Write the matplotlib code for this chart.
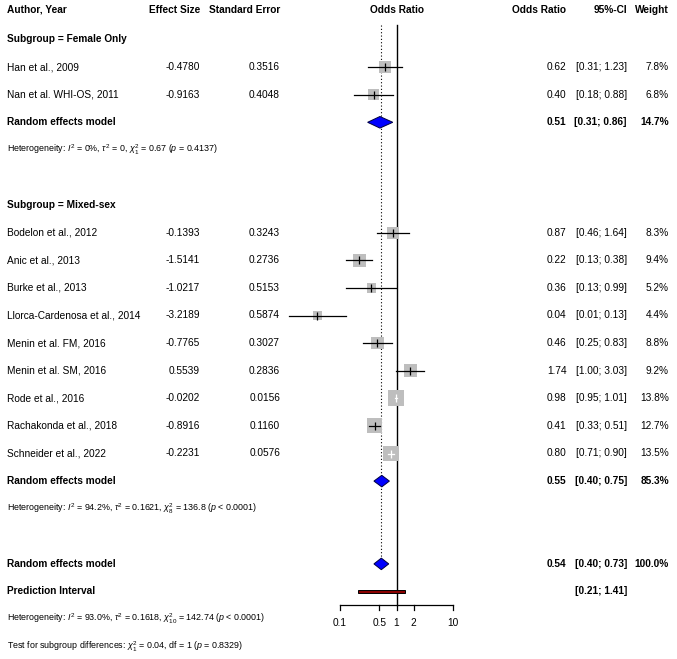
import numpy as np
import matplotlib
matplotlib.use('Agg')
import matplotlib.pyplot as plt

plt.rcParams['font.family'] = ['Liberation Sans', 'DejaVu Sans']
plt.rcParams['mathtext.fontset'] = 'custom'
plt.rcParams['mathtext.rm'] = 'Liberation Sans'
plt.rcParams['mathtext.it'] = 'Liberation Sans:italic'
plt.rcParams['mathtext.bf'] = 'Liberation Sans:bold'

# data
female_names = ['Han et al., 2009', 'Nan et al. WHI-OS, 2011']
female_es = [-0.4780, -0.9163]
female_se = [0.3516, 0.4048]
female_or = ['0.62', '0.40']
female_ci = ['[0.31; 1.23]', '[0.18; 0.88]']
female_w = [7.8, 6.8]

mixed_names = ['Bodelon et al., 2012', 'Anic et al., 2013', 'Burke et al., 2013',
               'Llorca-Cardenosa et al., 2014', 'Menin et al. FM, 2016',
               'Menin et al. SM, 2016', 'Rode et al., 2016',
               'Rachakonda et al., 2018', 'Schneider et al., 2022']
mixed_es = [-0.1393, -1.5141, -1.0217, -3.2189, -0.7765, 0.5539, -0.0202, -0.8916, -0.2231]
mixed_se = [0.3243, 0.2736, 0.5153, 0.5874, 0.3027, 0.2836, 0.0156, 0.1160, 0.0576]
mixed_or = ['0.87', '0.22', '0.36', '0.04', '0.46', '1.74', '0.98', '0.41', '0.80']
mixed_ci = ['[0.46; 1.64]', '[0.13; 0.38]', '[0.13; 0.99]', '[0.01; 0.13]', '[0.25; 0.83]',
            '[1.00; 3.03]', '[0.95; 1.01]', '[0.33; 0.51]', '[0.71; 0.90]']
mixed_w = [8.3, 9.4, 5.2, 4.4, 8.8, 9.2, 13.8, 12.7, 13.5]

# pooled random effects: OR, lower, upper, weight
re_female = [0.51, 0.31, 0.86, 14.7]
re_mixed = [0.55, 0.40, 0.75, 85.3]
re_all = [0.54, 0.40, 0.73, 100.0]
pred_int = [0.21, 1.41]

het_female = r'Heterogeneity: $I^2$ = 0%, $\tau^2$ = 0, $\chi^2_1$ = 0.67 ($p$ = 0.4137)'
het_mixed = r'Heterogeneity: $I^2$ = 94.2%, $\tau^2$ = 0.1621, $\chi^2_8$ = 136.8 ($p$ < 0.0001)'
het_all = r'Heterogeneity: $I^2$ = 93.0%, $\tau^2$ = 0.1618, $\chi^2_{10}$ = 142.74 ($p$ < 0.0001)'
test_sub = r'Test for subgroup differences: $\chi^2_1$ = 0.04, df = 1 ($p$ = 0.8329)'

ticks = [0.1, 0.5, 1, 2, 10]
tick_labels = ['0.1', '0.5', '1', '2', '10']

# layout (pixels / row units)
W, H = 677, 659
row0_px, row_px = 39.5, 27.6
def px2row(p):
    return 1 + (p - row0_px) / row_px
ylim = (px2row(H), px2row(0))
dec_px = 56.75  # pixels per decade
one_px = 396.5
ax_l, ax_r = 270, 480

FS = 7.3
FS_S = 6.4

fig = plt.figure(figsize=(W / 100, H / 100), dpi=100)
bg = fig.add_axes([0, 0, 1, 1])
bg.set_xlim(0, W)
bg.set_ylim(*ylim)
bg.axis('off')

ax = fig.add_axes([ax_l / W, 0, (ax_r - ax_l) / W, 1])
ax.set_xscale('log')
ax.set_xlim(10 ** ((ax_l - one_px) / dec_px), 10 ** ((ax_r - one_px) / dec_px))
ax.set_ylim(*ylim)
ax.axis('off')

x_name, x_es, x_se, x_or, x_ci, x_w = 7, 200, 280, 566.5, 627, 669

# header
hy = px2row(10)
bg.text(x_name, hy, 'Author, Year', fontsize=FS, fontweight='bold', va='center')
bg.text(x_es, hy, 'Effect Size', fontsize=FS, fontweight='bold', va='center', ha='right')
bg.text(x_se, hy, 'Standard Error', fontsize=FS, fontweight='bold', va='center', ha='right')
bg.text(one_px, hy, 'Odds Ratio', fontsize=FS, fontweight='bold', va='center', ha='center')
bg.text(x_or, hy, 'Odds Ratio', fontsize=FS, fontweight='bold', va='center', ha='right')
bg.text(x_ci, hy, '95%-CI', fontsize=FS, fontweight='bold', va='center', ha='right')
bg.text(x_w, hy, 'Weight', fontsize=FS, fontweight='bold', va='center', ha='right')


def study_rows(names, es, se, ors, cis, w, start):
    for k in range(len(names)):
        y = start + k
        est = np.exp(es[k])
        lo = np.exp(es[k] - 1.96 * se[k])
        hi = np.exp(es[k] + 1.96 * se[k])
        bg.text(x_name, y, names[k], fontsize=FS, va='center')
        bg.text(x_es, y, '%.4f' % es[k], fontsize=FS, va='center', ha='right')
        bg.text(x_se, y, '%.4f' % se[k], fontsize=FS, va='center', ha='right')
        bg.text(x_or, y, ors[k], fontsize=FS, va='center', ha='right')
        bg.text(x_ci, y, cis[k], fontsize=FS, va='center', ha='right')
        bg.text(x_w, y, '%.1f%%' % w[k], fontsize=FS, va='center', ha='right')
        side = 4.2 * np.sqrt(w[k])
        ax.scatter([est], [y], s=(side * 0.72) ** 2, marker='s', color='#BEBEBE',
                   edgecolors='none', zorder=3)
        ci_px = dec_px * np.log10(hi / lo)
        c = 'white' if ci_px < 0.6 * side else 'black'
        ax.plot([lo, hi], [y, y], color=c, lw=0.9, zorder=4)
        ax.plot([est], [y], marker='|', ms=5.8, mew=0.9, color=c, zorder=4)


def diamond(vals, y, label_txt):
    est, lo, hi, w = vals
    h = 0.21
    ax.fill([lo, est, hi, est], [y, y - h, y, y + h], facecolor='#0000FF',
            edgecolor='#000040', lw=0.7, zorder=5)
    bg.text(x_name, y, label_txt, fontsize=FS, fontweight='bold', va='center')
    bg.text(x_or, y, '%.2f' % est, fontsize=FS, fontweight='bold', va='center', ha='right')
    bg.text(x_ci, y, '[%.2f; %.2f]' % (lo, hi), fontsize=FS, fontweight='bold', va='center', ha='right')
    bg.text(x_w, y, '%.1f%%' % w, fontsize=FS, fontweight='bold', va='center', ha='right')


# subgroup female
bg.text(x_name, 1, 'Subgroup = Female Only', fontsize=FS, fontweight='bold', va='center')
study_rows(female_names, female_es, female_se, female_or, female_ci, female_w, 2)
diamond(re_female, 4, 'Random effects model')
bg.text(x_name, 5, het_female, fontsize=FS_S, va='center')

# subgroup mixed
bg.text(x_name, 7, 'Subgroup = Mixed-sex', fontsize=FS, fontweight='bold', va='center')
study_rows(mixed_names, mixed_es, mixed_se, mixed_or, mixed_ci, mixed_w, 8)
diamond(re_mixed, 17, 'Random effects model')
bg.text(x_name, 18, het_mixed, fontsize=FS_S, va='center')

# overall
diamond(re_all, 20, 'Random effects model')
ph = 0.065
ax.fill([pred_int[0], pred_int[1], pred_int[1], pred_int[0]], [21 - ph, 21 - ph, 21 + ph, 21 + ph],
        facecolor='#8B0000', edgecolor='black', lw=0.7, zorder=5)
bg.text(x_name, 21, 'Prediction Interval', fontsize=FS, fontweight='bold', va='center')
bg.text(x_ci, 21, '[%.2f; %.2f]' % tuple(pred_int), fontsize=FS, fontweight='bold', va='center', ha='right')
bg.text(x_name, 22, het_all, fontsize=FS_S, va='center')
bg.text(x_name, 23, test_sub, fontsize=FS_S, va='center')

# reference lines
top = px2row(25)
axis_y = px2row(605)
ax.plot([1, 1], [top, axis_y], color='black', lw=1.0, zorder=2)
ax.plot([re_all[0], re_all[0]], [top, 20], color='black', lw=0.8, ls=(0, (1, 2)), zorder=1)

# x axis
ax.plot([ticks[0], ticks[-1]], [axis_y, axis_y], color='black', lw=0.9)
for t, lab in zip(ticks, tick_labels):
    ax.plot([t, t], [axis_y, axis_y + 5 / row_px], color='black', lw=0.9)
    ax.text(t, px2row(623), lab, fontsize=FS, ha='center', va='center')

fig.savefig('out.png', dpi=100)
